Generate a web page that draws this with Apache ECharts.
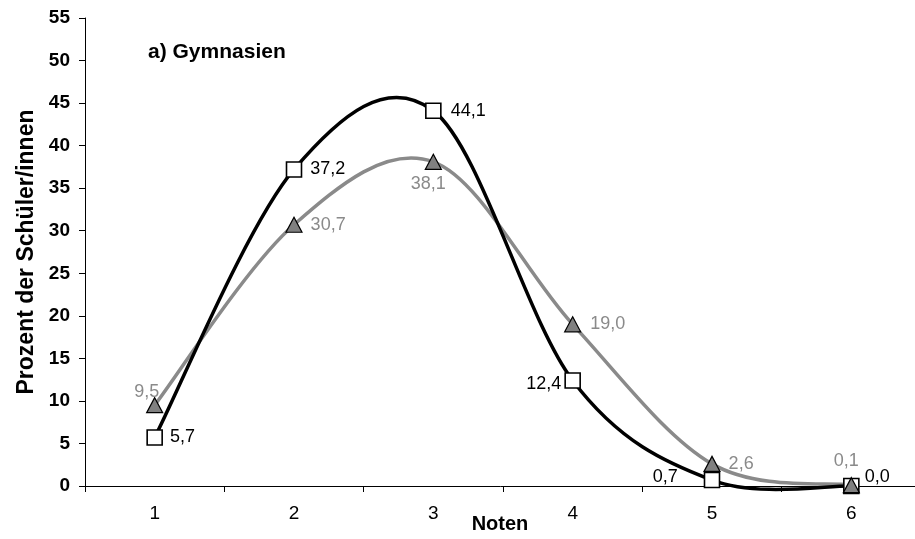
<!DOCTYPE html>
<html><head><meta charset="utf-8">
<script src="https://cdn.jsdelivr.net/npm/echarts@6/dist/echarts.min.js"></script>
<style>html,body{margin:0;padding:0;background:#fff}#c{width:915px;height:539px}</style>
</head><body><div id="c"></div>
<script>
const categories = ['1','2','3','4','5','6'];
const seriesBlack = [5.7, 37.2, 44.1, 12.4, 0.7, 0.0];
const seriesGray = [9.5, 30.7, 38.1, 19.0, 2.6, 0.1];
const titleText = 'a) Gymnasien';
const yName = 'Prozent der Schüler/innen';
const xName = 'Noten';

const FONT = '"Liberation Sans", Arial, sans-serif';
const BLACK = '#000000';
const GRAY_LINE = '#8a8a8a';
const GRAY_TEXT = '#8a8a8a';
const fmt = p => Number(p.value).toFixed(1).replace('.', ',');

const blackPos = [
  {position:'right', distance:7},
  {position:'right', distance:8},
  {position:'right', distance:9},
  {position:'left', distance:3, offset:[0,4]},
  {position:'left', distance:26, offset:[0,-3]},
  {position:'right', distance:5, offset:[0,-9]}
];
const grayPos = [
  {position:'top', distance:0, offset:[-8,4]},
  {position:'right', distance:8},
  {position:'bottom', distance:5, offset:[-5,0]},
  {position:'right', distance:9},
  {position:'right', distance:8},
  {position:'top', distance:7, offset:[-5,0]}
];

// Excel-like smoothing (Catmull-Rom style bezier) drawn from the data through the axis scales
function smoothRenderer(values, color, width) {
  return function (params, api) {
    const i = params.dataIndex;
    const n = values.length;
    if (i >= n - 1) return null;
    const P = k => api.coord([Math.max(0, Math.min(n - 1, k)), values[Math.max(0, Math.min(n - 1, k))]]);
    const p0 = P(i - 1), p1 = P(i), p2 = P(i + 1), p3 = P(i + 2);
    const c1 = [p1[0] + (p2[0] - p0[0]) / 6, p1[1] + (p2[1] - p0[1]) / 6];
    const c2 = [p2[0] - (p3[0] - p1[0]) / 6, p2[1] - (p3[1] - p1[1]) / 6];
    return {
      type: 'bezierCurve',
      shape: {x1:p1[0], y1:p1[1], x2:p2[0], y2:p2[1], cpx1:c1[0], cpy1:c1[1], cpx2:c2[0], cpy2:c2[1]},
      style: {stroke: color, lineWidth: width, fill: null, lineCap:'round'}
    };
  };
}

const chart = echarts.init(document.getElementById('c'), null, {renderer:'canvas'});
chart.setOption({
  animation:false,
  textStyle:{fontFamily:FONT},
  title:{text:titleText, left:143, top:37, textStyle:{fontFamily:FONT, fontSize:21, fontWeight:'bold', color:'#000'}},
  grid:{left:85, right:-6, top:18, bottom:53, containLabel:false, outerBoundsMode:'none'},
  xAxis:{type:'category', data:categories, boundaryGap:true,
    name:xName, nameLocation:'middle', nameGap:28, nameMoveOverlap:false,
    nameTextStyle:{fontFamily:FONT, fontSize:20, fontWeight:'bold', color:'#000', padding:[0,6,0,0]},
    axisLine:{lineStyle:{color:'#000', width:1}},
    axisTick:{show:true, length:6, lineStyle:{color:'#000'}},
    axisLabel:{fontFamily:FONT, fontSize:19, color:'#000', margin:18},
    splitLine:{show:false}},
  yAxis:{type:'value', min:0, max:55, interval:5,
    name:yName, nameLocation:'middle', nameGap:47, nameRotate:90, nameMoveOverlap:false,
    nameTextStyle:{fontFamily:FONT, fontSize:23, fontWeight:'bold', color:'#000'},
    axisLine:{show:true, lineStyle:{color:'#000', width:1}},
    axisTick:{show:true, inside:false, length:6, lineStyle:{color:'#000'}},
    axisLabel:{fontFamily:FONT, fontSize:19, fontWeight:'bold', color:'#000', margin:15},
    splitLine:{show:false}},
  series:[
    {type:'custom', clip:false, z:2, silent:true,
     renderItem: smoothRenderer(seriesGray, GRAY_LINE, 3.5),
     encode:{x:0, y:1},
     data: seriesGray.map((v,i)=>[i,v])},
    {type:'custom', clip:false, z:3, silent:true,
     renderItem: smoothRenderer(seriesBlack, BLACK, 3.5),
     encode:{x:0, y:1},
     data: seriesBlack.map((v,i)=>[i,v])},
    {type:'line', symbol:'rect', symbolSize:15, z:4,
     lineStyle:{width:0, opacity:0},
     itemStyle:{color:'#fff', borderColor:'#000', borderWidth:1.6},
     data:seriesBlack.map((v,i)=>({value:v, label:Object.assign({show:true, formatter:fmt, color:'#000', fontSize:18, fontFamily:FONT}, blackPos[i])}))},
    {type:'line', symbol:'triangle', symbolSize:[16,15], z:5,
     lineStyle:{width:0, opacity:0},
     itemStyle:{color:'#808080', borderColor:'#000', borderWidth:1.2},
     data:seriesGray.map((v,i)=>({value:v, label:Object.assign({show:true, formatter:fmt, color:GRAY_TEXT, fontSize:18, fontFamily:FONT}, grayPos[i])}))}
  ]
});
</script></body></html>
